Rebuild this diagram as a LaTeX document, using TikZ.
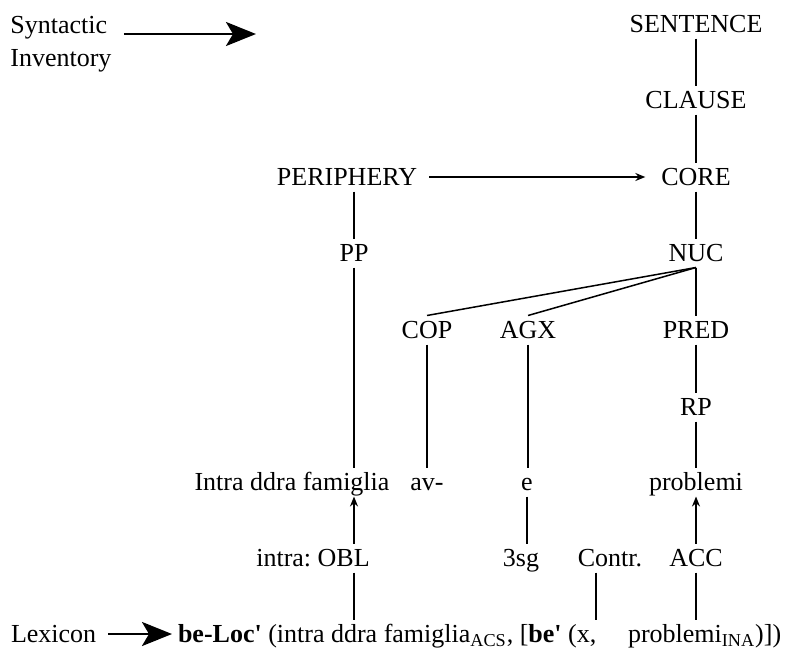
\documentclass[tikz,border=0pt]{standalone}
\usepackage{fontspec}
\setmainfont{Liberation Serif}
\usetikzlibrary{arrows.meta}

\begin{document}
\begin{tikzpicture}[x=0.5pt,y=0.5pt,yscale=-1,xscale=1,
  every node/.style={font=\fontsize{13pt}{16.5pt}\selectfont},
  lbl/.style={inner sep=3pt,outer sep=0pt,text height=8.5pt,text depth=0pt},
  link/.style={line width=0.75pt},
  uparrow/.style={line width=0.75pt,-{Stealth[length=5pt,width=4pt]}},
  bigarrow/.style={line width=1.4pt,-{Stealth[length=15pt,width=12pt,inset=3.5pt]}}]
\useasboundingbox (0,0) rectangle (787,649);

% Text Node
\node (synt) [anchor=base west,align=left,inner sep=0pt] at (10,66) {Syntactic\\Inventory};
\coordinate (syn-tip) at (256,34);
% Text Node
\node (sentence) [lbl] at (696,24) {SENTENCE};
% Text Node
\node (clause) [lbl] at (696,100) {CLAUSE};
% Text Node
\node (periphery) [lbl] at (347,177) {PERIPHERY};
% Text Node
\node (core) [lbl] at (696,177) {CORE};
% Text Node
\node (pp) [lbl] at (354,253) {PP};
% Text Node
\node (nuc) [lbl] at (696,253) {NUC};
% Text Node
\node (cop) [lbl] at (427,330) {COP};
% Text Node
\node (agx) [lbl] at (528,330) {AGX};
% Text Node
\node (pred) [lbl] at (696,330) {PRED};
% Text Node
\node (rp) [lbl] at (696,407) {RP};
% Text Node
\node (intra) [lbl] at (292,482) {Intra ddra famiglia};
% Text Node
\node (av) [lbl] at (427,482) {av-};
% Text Node
\node (e) [lbl] at (527,482) {e};
% Text Node
\node (problemi) [lbl] at (696,482) {problemi};
% Text Node
\node (obl) [lbl] at (313,558) {intra:\ OBL};
% Text Node
\node (sg) [lbl] at (521,558) {3sg};
% Text Node
\node (contr) [lbl] at (610,558) {Contr.};
% Text Node
\node (acc) [lbl] at (696,558) {ACC};
% Text Node
\node (lexicon) [lbl,anchor=west] at (5,634) {Lexicon};
% Text Node
\node (lex) [lbl,anchor=west] at (172,634) {\textbf{be-Loc\textquotesingle} (intra ddra famiglia\textsubscript{ACS}, [\textbf{be\textquotesingle} (x,};
% Text Node
\node (lexb) [lbl,anchor=west] at (622,634) {problemi\textsubscript{INA})])};

%Straight Lines
\draw [bigarrow,shorten <=6pt] (synt.east |- syn-tip) -- (syn-tip);
\draw [bigarrow,shorten <=3pt] (lexicon) -- (lex);
\draw [link] (sentence) -- (clause);
\draw [link] (clause) -- (core);
\draw [link] (core) -- (nuc);
\draw [link,-{Stealth[length=5pt,width=4pt]},shorten <=3pt,shorten >=5pt] (periphery) -- (core);
\draw [link] (periphery.south -| pp) -- (pp);
\draw [link] (pp) -- (pp |- intra.north);
%Straight Lines
\draw [link] (nuc.south) -- (cop.north);
\draw [link] (nuc.south) -- (agx.north);
\draw [link] (nuc) -- (pred);
\draw [link] (cop) -- (av);
\draw [link] (agx) -- (agx |- e.north);
\draw [link] (pred) -- (rp);
\draw [link] (rp) -- (problemi);
%Straight Lines
\draw [uparrow] (obl.north -| pp) -- (intra.south -| pp);
\draw [link] (e) -- (e |- sg.north);
\draw [uparrow] (acc) -- (problemi);
\draw [link] (obl.south -| pp) -- (pp |- lex.north);
\draw [link] ([xshift=-7pt]contr.south) -- ([xshift=-7pt]contr.south |- lex.north);
\draw [link] (acc) -- (acc |- lexb.north);

\end{tikzpicture}
\end{document}
